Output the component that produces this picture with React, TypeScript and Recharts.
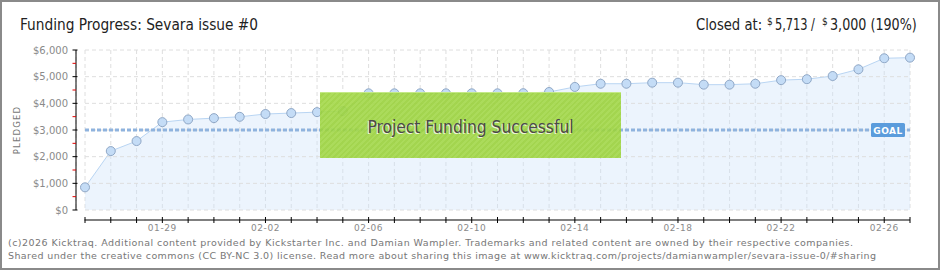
import React from 'react';
import { AreaChart, Area, XAxis, YAxis, CartesianGrid, ReferenceLine } from 'recharts';

const dates = [
  '01-26', '01-27', '01-28', '01-29', '01-30', '01-31', '02-01', '02-02', '02-03', '02-04', '02-05',
  '02-06', '02-07', '02-08', '02-09', '02-10', '02-11', '02-12', '02-13', '02-14', '02-15', '02-16',
  '02-17', '02-18', '02-19', '02-20', '02-21', '02-22', '02-23', '02-24', '02-25', '02-26', '02-27',
];
const pledged = [
  850, 2210, 2585, 3295, 3395, 3445, 3495, 3600, 3635, 3670, 3710,
  4375, 4375, 4375, 4375, 4375, 4375, 4380, 4425, 4615, 4735, 4735,
  4775, 4775, 4700, 4700, 4735, 4870, 4905, 5025, 5275, 5690, 5713,
];
const yTicks = [0, 500, 1000, 1500, 2000, 2500, 3000, 3500, 4000, 4500, 5000, 5500, 6000];
const yGridTicks = [0, 1000, 2000, 3000, 4000, 5000, 6000];
const xLabelDates = ['01-29', '02-02', '02-06', '02-10', '02-14', '02-18', '02-22', '02-26'];
const goal = 3000;
const closedAt = '5,713 /';
const goalText = '3,000';
const percentText = '(190%)';

const data = dates.map((d, i) => ({ date: d, pledged: pledged[i] }));

const tickFont = 'DejaVu Sans, Verdana, sans-serif';
const headFont = 'DejaVu Sans Condensed, DejaVu Sans, sans-serif';

const YTick = (props: any) => {
  const { x, y, payload } = props;
  const v = payload.value as number;
  if (v % 1000 !== 0) {
    return <line x1={x - 3.5} x2={x} y1={y} y2={y} stroke="#e00000" strokeWidth={1} />;
  }
  return (
    <g>
      <line x1={x - 3.5} x2={x + 1.5} y1={y} y2={y} stroke="#000" strokeWidth={1} />
      <text x={x - 8} y={y} dy={3.5} textAnchor="end" fontSize={10} fontFamily={tickFont} fill="#8a8a8a">
        {`$${v.toLocaleString('en-US')}`}
      </text>
    </g>
  );
};

const XTick = (props: any) => {
  const { x, y, payload, index } = props;
  const lab = payload.value as string;
  return (
    <g>
      {index === 0 ? <line x1={x - 12} x2={x - 0.5} y1={y} y2={y} stroke="#fff" strokeWidth={3} /> : null}
      <line x1={x} x2={x} y1={y - 3} y2={y + 3} stroke="#000" strokeWidth={1} />
      {xLabelDates.includes(lab) ? (
        <text x={x} y={y + 11} textAnchor="middle" fontSize={9} fontFamily={tickFont} fill="#8a8a8a" letterSpacing={0.6}>
          {lab}
        </text>
      ) : null}
    </g>
  );
};

const GoalLabel = (props: any) => {
  const vb = props.viewBox || {};
  const right = vb.x + vb.width;
  const yy = vb.y;
  return (
    <g>
      <rect x={right - 39} y={yy - 7} width={34} height={14} rx={1.5} fill="#5b9cdc" />
      <text x={right - 22} y={yy + 3.5} textAnchor="middle" fontSize={9} fontWeight="bold" fontFamily={tickFont} fill="#fff" letterSpacing={0.5}>
        GOAL
      </text>
    </g>
  );
};

export default function App() {
  return (
    <div style={{ position: 'absolute', left: 0, top: 0, width: 940, height: 270, background: '#fff' }}>
      <AreaChart width={940} height={270} data={data} margin={{ top: 50, right: 30, bottom: 30, left: 0 }}>
        <CartesianGrid xAxisId="b_xmain" yAxisId="main" horizontal={false} stroke="#dedede" strokeDasharray="4 3" />
        {yGridTicks.map((v) => (
          <ReferenceLine
            key={v}
            xAxisId="b_xmain"
            yAxisId="main"
            segment={[
              { x: dates[0], y: v },
              { x: dates[dates.length - 1], y: v },
            ]}
            stroke="#dedede"
            strokeDasharray="4 3"
          />
        ))}
        <XAxis xAxisId="a_xsp" dataKey="date" scale="point" padding={{ left: 9, right: 0 }} height={10} tick={false} axisLine={false} tickLine={false} />
        <XAxis
          xAxisId="b_xmain"
          dataKey="date"
          scale="point"
          padding={{ left: 9, right: 0 }}
          height={20}
          interval={0}
          tickSize={0}
          tickMargin={0}
          tickLine={false}
          axisLine={{ stroke: '#000', strokeWidth: 1 }}
          tick={<XTick />}
        />
        <YAxis
          yAxisId="main"
          width={76}
          domain={[0, 6000]}
          ticks={yTicks}
          interval={0}
          tickSize={0}
          tickMargin={0}
          tickLine={false}
          axisLine={{ stroke: '#000', strokeWidth: 1 }}
          tick={<YTick />}
        />
        <Area
          xAxisId="b_xmain"
          yAxisId="main"
          type="linear"
          dataKey="pledged"
          stroke="#b9d5f3"
          strokeWidth={1}
          fill="#cfe3f9"
          fillOpacity={0.4}
          dot={{ r: 4.5, fill: '#c4dcf6', stroke: '#8fa7c6', strokeWidth: 1, fillOpacity: 1 }}
          activeDot={false}
          isAnimationActive={false}
        />
        <ReferenceLine
          xAxisId="b_xmain"
          yAxisId="main"
          segment={[
            { x: dates[0], y: goal },
            { x: dates[dates.length - 1], y: goal },
          ]}
          stroke="#8fb3de"
          strokeWidth={3}
          strokeDasharray="4 2"
          label={<GoalLabel />}
        />
      </AreaChart>
      <div
        style={{
          position: 'absolute',
          left: 320,
          top: 92,
          width: 301,
          height: 66,
          background:
            'repeating-linear-gradient(135deg, rgba(255,255,255,0.06) 0px, rgba(255,255,255,0.06) 2px, rgba(0,0,0,0.02) 2px, rgba(0,0,0,0.02) 4px), rgba(158,214,62,0.9)',
          borderTop: '1px solid rgba(200,235,140,0.9)',
          boxSizing: 'border-box',
        }}
      />
      <svg width={940} height={270} style={{ position: 'absolute', left: 0, top: 0, pointerEvents: 'none' }}>
        <rect x={1} y={1} width={938} height={268} fill="none" stroke="#8a8a8a" strokeWidth={2} />
        <text x={20} y={30} fontSize={16} fontFamily={headFont} fill="#222" textLength={238} lengthAdjust="spacingAndGlyphs">
          Funding Progress: Sevara issue #0
        </text>
        <text transform="translate(696,30) scale(0.915,1)" fontSize={16} fontFamily={headFont} fill="#222">
          Closed at:
        </text>
        <text x={767} y={25} fontSize={10} fontFamily={headFont} fill="#222">$</text>
        <text transform="translate(775,30) scale(0.79,1)" fontSize={16} fontFamily={headFont} fill="#222">
          {closedAt}
        </text>
        <text x={822} y={25} fontSize={10} fontFamily={headFont} fill="#222">$</text>
        <text transform="translate(830,30) scale(0.885,1)" fontSize={16} fontFamily={headFont} fill="#222">
          {`${goalText} ${percentText}`}
        </text>
        <text
          x={20}
          y={130}
          transform="rotate(-90 20 130)"
          textAnchor="middle"
          fontSize={8.5}
          fontFamily={tickFont}
          fill="#777"
          letterSpacing={1.2}
        >
          PLEDGED
        </text>
        <text x={366.5} y={133.5} fontSize={18} fontFamily={headFont} fill="#fff" fillOpacity={0.8} textLength={206} lengthAdjust="spacingAndGlyphs">
          Project Funding Successful
        </text>
        <text x={367.5} y={132.5} fontSize={18} fontFamily={headFont} fill="#4a4a4a" textLength={206} lengthAdjust="spacingAndGlyphs">
          Project Funding Successful
        </text>
        <text x={8} y={246} fontSize={9.5} fontFamily={tickFont} fill="#777" textLength={845} lengthAdjust="spacing">
          (c)2026 Kicktraq. Additional content provided by Kickstarter Inc. and Damian Wampler. Trademarks and related content are owned by their respective companies.
        </text>
        <text x={8} y={259} fontSize={9.5} fontFamily={tickFont} fill="#777" textLength={868} lengthAdjust="spacing">
          Shared under the creative commons (CC BY-NC 3.0) license. Read more about sharing this image at www.kicktraq.com/projects/damianwampler/sevara-issue-0/#sharing
        </text>
      </svg>
    </div>
  );
}
